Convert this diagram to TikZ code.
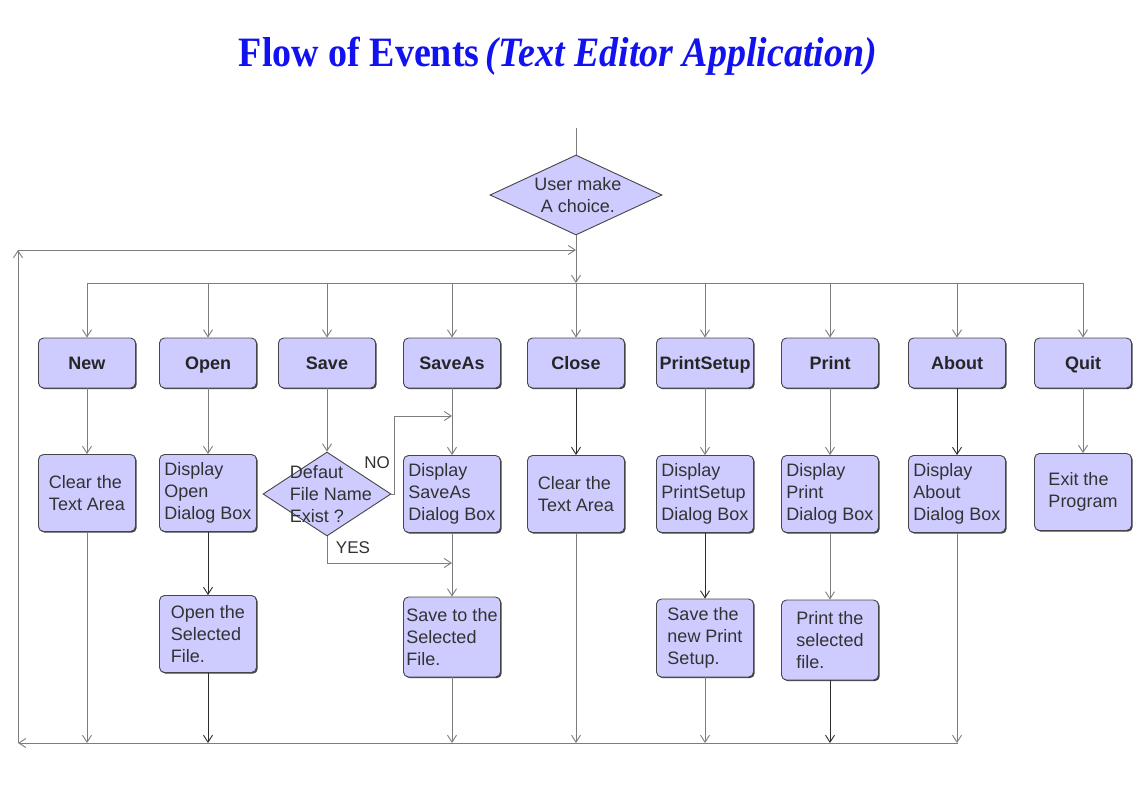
\documentclass[tikz,border=0pt]{standalone}
\usepackage{fontspec}
\setmainfont{Liberation Sans}
\newfontfamily\titlefont{Liberation Serif}
\usetikzlibrary{arrows.meta,shapes.geometric,shadows}

\definecolor{boxfill}{RGB}{206,204,255}
\definecolor{boxline}{RGB}{70,70,70}
\definecolor{titleblue}{RGB}{18,18,240}
\definecolor{wire}{RGB}{125,125,125}
\definecolor{wiredark}{RGB}{45,45,45}
\definecolor{inktext}{RGB}{50,50,50}

\tikzset{
  x=1pt, y=-1pt,
  tip/.style={-{Straight Barb[length=7pt,width=9pt,line width=0.9pt]}},
  plain/.style={draw=wire, line width=0.9pt},
  wire/.style={plain, tip},
  wiredk/.style={wire, draw=wiredark},
  boxbase/.style={rectangle, rounded corners=5pt, draw=boxline, line width=0.9pt,
    fill=boxfill, minimum width=97pt, inner sep=1pt,
    drop shadow={shadow xshift=1.2pt, shadow yshift=-1.2pt, fill=black!75, opacity=1}},
  choicebox/.style={boxbase, minimum height=50pt, text height=13pt, text depth=0.5pt,
    font=\fontsize{18}{22}\selectfont\bfseries, text=black!85},
  stepbox/.style={boxbase, minimum height=77pt, align=left,
    font=\fontsize{18}{22}\selectfont, text=inktext},
  decide/.style={diamond, draw=boxline, line width=0.9pt, fill=boxfill, inner sep=0pt},
  inside/.style={align=left, font=\fontsize{18}{22}\selectfont, text=inktext},
  tag/.style={font=\fontsize{17}{20}\selectfont, text=inktext},
}

\begin{document}
\begin{tikzpicture}
\useasboundingbox (0,0) rectangle (1144,805);

% title
\node (title) [yscale=1.1, transform shape, text=titleblue]
  at (558,56) {\titlefont\fontsize{38}{40}\selectfont\bfseries Flow of Events\,\textit{(Text Editor Application)}};

% start decision
\node (choice) [decide, minimum width=172pt, minimum height=80pt] at (576,195) {};
\node (choicetext) [inside, align=center] at (578,195) {User make\\A choice.};

% menu choices
\node (cNew)    [choicebox] at (87,363)  {New};
\node (cOpen)   [choicebox] at (208,363) {Open};
\node (cSave)   [choicebox] at (327,363) {Save};
\node (cSaveAs) [choicebox] at (452,363) {SaveAs};
\node (cClose)  [choicebox] at (576,363) {Close};
\node (cPSetup) [choicebox] at (705,363) {PrintSetup};
\node (cPrint)  [choicebox] at (830,363) {Print};
\node (cAbout)  [choicebox] at (957,363) {About};
\node (cQuit)   [choicebox] at (1083,363) {Quit};

% first actions
\node (dNew)    [stepbox] at (87,493)  {Clear the\\Text Area};
\node (dOpen)   [stepbox] at (208,493) {Display\\Open\\Dialog Box};
\node (qSave)   [decide, minimum width=128pt, minimum height=84pt] at (327,494) {};
\node (qSavetext) [inside] at (331,494) {Defaut\\File Name\\Exist ?};
\node (dSaveAs) [stepbox] at (452,494) {Display\\SaveAs\\Dialog Box};
\node (dClose)  [stepbox] at (576,494) {Clear the\\Text Area};
\node (dPSetup) [stepbox] at (705,494) {Display\\PrintSetup\\Dialog Box};
\node (dPrint)  [stepbox] at (830,494) {Display\\Print\\Dialog Box};
\node (dAbout)  [stepbox] at (957,494) {Display\\About\\Dialog Box};
\node (dQuit)   [stepbox] at (1083,492) {Exit the\\Program};

% second actions
\node (eOpen)   [stepbox] at (208,634) {Open the\\Selected\\File.};
\node (eSaveAs) [stepbox, minimum height=80pt] at (452,637) {Save to the\\Selected\\File.};
\node (ePSetup) [stepbox, minimum height=78pt] at (705,638) {Save the\\new Print\\Setup.};
\node (ePrint)  [stepbox, minimum height=80pt] at (830,640) {Print the\\selected\\file.};

% routing points
\coordinate (entry)    at (576,128);
\coordinate (split)    at (576,283);
\coordinate (splitL)   at (87,283);
\coordinate (splitR)   at (1083,283);
\coordinate (noJoin)   at (452,416);
\coordinate (yesJoin)  at (452,563);
\coordinate (bottomR)  at (958,743);
\coordinate (bottomL)  at (18,743);
\coordinate (loopTop)  at (18,250);
\coordinate (loopJoin) at (576,250);

% entry and fan-out
\draw[plain] (entry) -- (choice.north);
\draw[wire] (choice.south) -- (split);
\draw[plain] (splitL) -- (splitR);
\foreach \c in {cNew,cOpen,cSave,cSaveAs,cClose,cPSetup,cPrint,cAbout,cQuit}
  \draw[wire] (\c.north |- split) -- (\c.north);

% choice to first action
\draw[wire]   (cNew.south)    -- (dNew.north);
\draw[wire]   (cOpen.south)   -- (dOpen.north);
\draw[wire]   (cSave.south)   -- (qSave.north);
\draw[wire]   (cSaveAs.south) -- (dSaveAs.north);
\draw[wiredk] (cClose.south)  -- (dClose.north);
\draw[wire]   (cPSetup.south) -- (dPSetup.north);
\draw[wire]   (cPrint.south)  -- (dPrint.north);
\draw[wiredk] (cAbout.south)  -- (dAbout.north);
\draw[wire]   (cQuit.south)   -- (dQuit.north);

% save decision
\draw[wire] (qSave.east) -- ([xshift=3pt]qSave.east) |- (noJoin);
\draw[wire] (qSave.south) |- (yesJoin);
\node (noTag)  [tag] at (377,463) {NO};
\node (yesTag) [tag] at (353,548) {YES};

% first action to second action
\draw[wiredk] (dOpen.south)   -- (eOpen.north);
\draw[wire]   (dSaveAs.south) -- (eSaveAs.north);
\draw[wiredk] (dPSetup.south) -- (ePSetup.north);
\draw[wire]   (dPrint.south)  -- (ePrint.north);

% return to the bottom line
\draw[wire]   (dNew.south)    -- (dNew.south |- bottomL);
\draw[wiredk] (eOpen.south)   -- (eOpen.south |- bottomL);
\draw[wire]   (eSaveAs.south) -- (eSaveAs.south |- bottomL);
\draw[wire]   (dClose.south)  -- (dClose.south |- bottomL);
\draw[wire]   (ePSetup.south) -- (ePSetup.south |- bottomL);
\draw[wiredk] (ePrint.south)  -- (ePrint.south |- bottomL);
\draw[wire]   (dAbout.south)  -- (dAbout.south |- bottomL);

% loop back to the start
\draw[wire] (bottomR) -- (bottomL);
\draw[wire] (bottomL) -- (loopTop);
\draw[wire] (loopTop) -- (loopJoin);
\end{tikzpicture}
\end{document}
